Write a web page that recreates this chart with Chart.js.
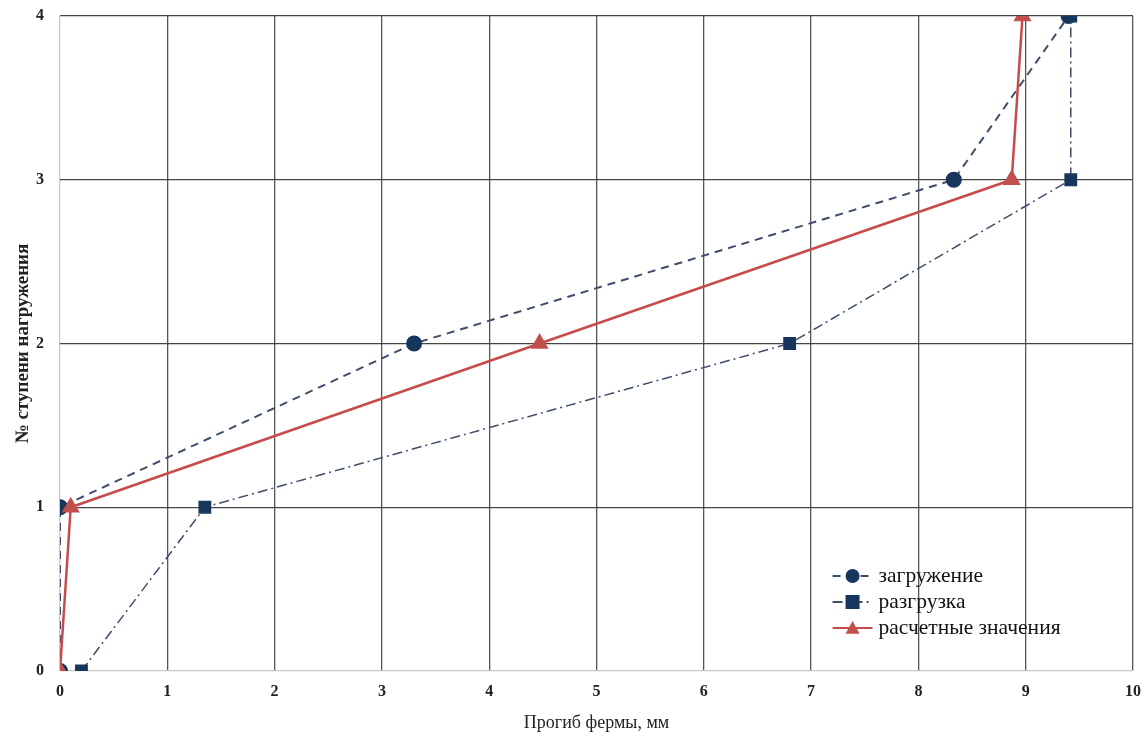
<!DOCTYPE html>
<html>
<head>
<meta charset="utf-8">
<script src="https://cdn.jsdelivr.net/npm/chart.js@4"></script>
<style>
  html, body { margin: 0; padding: 0; background: #fff; }
  #wrap { width: 1147px; height: 738px; }
</style>
</head>
<body>
<div id="wrap"><canvas id="chart" width="1147" height="738"></canvas></div>
<script>
// ступени нагружения
const stages = [0, 1, 2, 3, 4];
// прогибы, мм
const loading = [0, 0, 3.3, 8.33, 9.4];
const unloading = [0.2, 1.35, 6.8, 9.42, 9.42];
const calculated = [0, 0.1, 4.47, 8.87, 8.97];
const xTicks = [0, 1, 2, 3, 4, 5, 6, 7, 8, 9, 10];
const yTicks = [0, 1, 2, 3, 4];

const seriesNames = ['загружение', 'разгрузка', 'расчетные значения'];

function toPoints(xs) {
  return xs.map((x, i) => ({ x: x, y: stages[i] }));
}

// легенда внутри области графика
const insideLegend = {
  id: 'insideLegend',
  afterDraw(chart) {
    const ctx = chart.ctx;
    const x0 = chart.scales.x.getPixelForValue(7.2);
    let y = chart.scales.y.getPixelForValue(0.58);
    ctx.save();
    ctx.font = '21.5px "Liberation Serif", serif';
    ctx.textBaseline = 'middle';
    chart.data.datasets.forEach(ds => {
      ctx.strokeStyle = ds.borderColor;
      ctx.lineWidth = 2;
      ctx.setLineDash(ds.borderDash || []);
      ctx.beginPath();
      ctx.moveTo(x0, y);
      ctx.lineTo(x0 + 40, y);
      ctx.stroke();
      ctx.setLineDash([]);
      ctx.fillStyle = ds.pointBackgroundColor;
      const cx = x0 + 20, r = 7;
      ctx.beginPath();
      if (ds.pointStyle === 'circle') {
        ctx.arc(cx, y, r, 0, Math.PI * 2);
      } else if (ds.pointStyle === 'rect') {
        ctx.rect(cx - r, y - r, 2 * r, 2 * r);
      } else {
        ctx.moveTo(cx, y - r);
        ctx.lineTo(cx + r, y + r * 0.8);
        ctx.lineTo(cx - r, y + r * 0.8);
        ctx.closePath();
      }
      ctx.fill();
      ctx.fillStyle = '#111';
      ctx.fillText(ds.label, x0 + 46, y);
      y += 26;
    });
    ctx.restore();
  }
};

new Chart(document.getElementById('chart').getContext('2d'), {
  type: 'scatter',
  data: {
    datasets: [{
      label: seriesNames[0],
      data: toPoints(loading),
      showLine: true,
      borderColor: '#3E4E68',
      borderWidth: 2,
      borderDash: [8, 6],
      pointStyle: 'circle',
      pointRadius: 7,
      pointBackgroundColor: '#17365D',
      pointBorderColor: '#17365D',
      order: 2
    }, {
      label: seriesNames[1],
      data: toPoints(unloading),
      showLine: true,
      borderColor: '#3E4E68',
      borderWidth: 1.5,
      borderDash: [10, 4, 2, 4],
      pointStyle: 'rect',
      pointRadius: 8,
      pointBackgroundColor: '#17365D',
      pointBorderColor: '#17365D',
      order: 1
    }, {
      label: seriesNames[2],
      data: toPoints(calculated),
      showLine: true,
      borderColor: '#C84B4B',
      borderWidth: 2.5,
      pointStyle: 'triangle',
      pointRadius: 8,
      pointBackgroundColor: '#C0504D',
      pointBorderColor: '#C0504D',
      order: 0
    }]
  },
  options: {
    responsive: false,
    animation: false,
    layout: { padding: { top: 16, right: 14, left: 8, bottom: 0 } },
    plugins: {
      legend: { display: false },
      tooltip: { enabled: false }
    },
    scales: {
      x: {
        type: 'linear',
        min: 0, max: 10,
        afterBuildTicks: s => { s.ticks = xTicks.map(v => ({ value: v })); },
        afterFit: s => { s.height = 67; s.paddingLeft = 0; s.paddingRight = 0; },
        grid: {
          color: ctx => ctx.tick && ctx.tick.value === 0 ? '#c8c8c8' : '#555',
          lineWidth: 1.3,
          drawTicks: false
        },
        border: { display: false },
        ticks: {
          color: '#222',
          padding: 11,
          font: { family: '"Liberation Serif", serif', size: 16, weight: 'bold' }
        },
        title: {
          display: true,
          text: 'Прогиб фермы, мм',
          color: '#222',
          padding: { top: 2 },
          font: { family: '"Liberation Serif", serif', size: 18 }
        }
      },
      y: {
        type: 'linear',
        min: 0, max: 4,
        afterBuildTicks: s => { s.ticks = yTicks.map(v => ({ value: v })); },
        afterFit: s => { s.width = 52; s.paddingTop = 0; s.paddingBottom = 0; },
        grid: {
          color: ctx => ctx.tick && ctx.tick.value === 0 ? '#c8c8c8' : '#444',
          lineWidth: 1.3,
          drawTicks: false
        },
        border: { display: false },
        ticks: {
          color: '#222',
          padding: 16,
          font: { family: '"Liberation Serif", serif', size: 16, weight: 'bold' }
        },
        title: {
          display: true,
          text: '№ ступени нагружения',
          color: '#222',
          padding: { bottom: 0 },
          font: { family: '"Liberation Serif", serif', size: 19, weight: 'bold' }
        }
      }
    }
  },
  plugins: [insideLegend]
});
</script>
</body>
</html>
